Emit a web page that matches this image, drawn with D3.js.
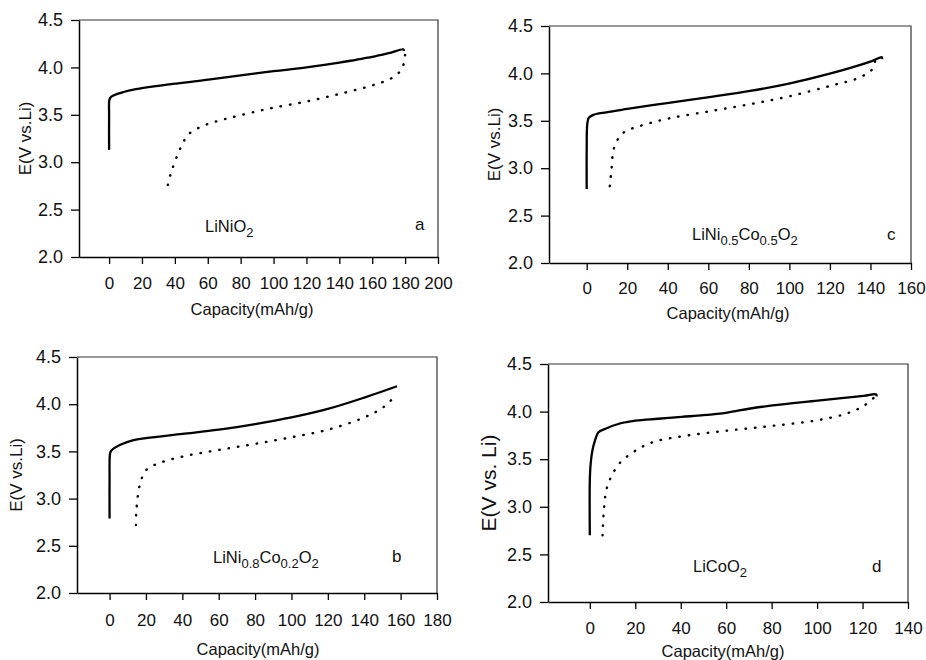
<!DOCTYPE html>
<html>
<head>
<meta charset="utf-8">
<script src="https://cdn.jsdelivr.net/npm/d3@7"></script>
<style>
  body { margin: 0; background: #fff; }
  svg { display: block; font-family: "Liberation Sans", Arial, sans-serif; }
</style>
</head>
<body>
<div id="chart"></div>
<script>
// Charge / discharge curves, [capacity mAh/g, E V]
const chargeA = [[0, 3.13], [0, 3.5], [0.2, 3.66], [1.2, 3.69], [5, 3.72], [8.7, 3.74], [14.8, 3.765], [41, 3.83], [60.4, 3.87], [80, 3.915], [100, 3.96], [120, 4.0], [140, 4.05], [150, 4.08], [160, 4.11], [170, 4.15], [179, 4.19], [179.2, 4.175]];
const dischargeA = [[35.7, 2.76], [37.5, 2.88], [41, 3.05], [44.8, 3.2], [48, 3.29], [53.7, 3.355], [60.4, 3.405], [71.6, 3.46], [85.8, 3.52], [100, 3.575], [120, 3.64], [140, 3.72], [160, 3.81], [171, 3.88], [177, 3.96], [179.5, 4.06], [180, 4.16]];

const chargeC = [[0, 2.78], [0, 3.2], [0.3, 3.47], [1, 3.53], [3, 3.56], [9.7, 3.59], [20, 3.625], [40.5, 3.69], [60.5, 3.75], [80.6, 3.815], [100.3, 3.895], [120.4, 4.0], [140.7, 4.13], [145.6, 4.17], [145.8, 4.15]];
const dischargeC = [[11.4, 2.81], [12.2, 2.98], [13.3, 3.2], [15.5, 3.31], [18.8, 3.385], [26.2, 3.445], [40.5, 3.525], [60.5, 3.6], [80.6, 3.675], [100.3, 3.76], [120.4, 3.87], [135, 3.96], [141.5, 4.06], [142.3, 4.16]];

const chargeB = [[0, 2.79], [0, 3.2], [0.3, 3.48], [1, 3.51], [5.9, 3.57], [13.2, 3.62], [20, 3.64], [40, 3.685], [60, 3.73], [80, 3.79], [100, 3.86], [120, 3.95], [140, 4.07], [158, 4.19]];
const dischargeB = [[14.5, 2.72], [14.7, 2.86], [16, 3.09], [17.8, 3.22], [20.5, 3.31], [27.9, 3.38], [40, 3.445], [60, 3.515], [80, 3.58], [100, 3.65], [120, 3.73], [140, 3.86], [150.7, 3.97], [158, 4.11]];

const chargeD = [[0, 2.7], [0, 3.28], [0.4, 3.46], [1.2, 3.6], [2.2, 3.69], [3.7, 3.78], [6.9, 3.82], [13.2, 3.875], [20.1, 3.905], [30, 3.925], [40.4, 3.945], [50, 3.962], [60.5, 3.99], [70, 4.03], [80.4, 4.065], [100.3, 4.115], [120.5, 4.165], [126, 4.18], [126.2, 4.16]];
const dischargeD = [[5.6, 2.7], [6.2, 2.97], [7.3, 3.18], [9.5, 3.32], [13.2, 3.46], [20.1, 3.59], [27.9, 3.68], [40.4, 3.74], [60.5, 3.8], [80.4, 3.85], [100.3, 3.91], [113, 3.98], [120.5, 4.06], [125.6, 4.16]];

// Axis ticks
const yTicks = [2.0, 2.5, 3.0, 3.5, 4.0, 4.5];
const xTicksA = [0, 20, 40, 60, 80, 100, 120, 140, 160, 180, 200];
const xTicksC = [0, 20, 40, 60, 80, 100, 120, 140, 160];
const xTicksB = [0, 20, 40, 60, 80, 100, 120, 140, 160, 180];
const xTicksD = [0, 20, 40, 60, 80, 100, 120, 140];

// Compound labels as [text, isSubscript] parts
const labelA = [["LiNiO", false], ["2", true]];
const labelC = [["LiNi", false], ["0.5", true], ["Co", false], ["0.5", true], ["O", false], ["2", true]];
const labelB = [["LiNi", false], ["0.8", true], ["Co", false], ["0.2", true], ["O", false], ["2", true]];
const labelD = [["LiCoO", false], ["2", true]];

const width = 926, height = 660;

const panels = [
    {charge: chargeA, discharge: dischargeA, xTicks: xTicksA, xMin: -18.3, xMax: 200, label: labelA, letter: "a",
     left: 79, right: 438, top: 20, bottom: 257, yTitle: "E(V vs.Li)", yTitleSize: 17, yTitleX: 25,
     labelX: 205, labelY: 232, letterX: 415, letterY: 230, tickPad: 13, titleDy: 58, titleX: 252},
    {charge: chargeC, discharge: dischargeC, xTicks: xTicksC, xMin: -18.6, xMax: 160, label: labelC, letter: "c",
     left: 549, right: 911, top: 26, bottom: 263, yTitle: "E(V vs.Li)", yTitleSize: 17, yTitleX: 494,
     labelX: 692, labelY: 240, letterX: 887, letterY: 240, tickPad: 12, titleDy: 56, titleX: 728},
    {charge: chargeB, discharge: dischargeB, xTicks: xTicksB, xMin: -17.9, xMax: 180, label: labelB, letter: "b",
     left: 77, right: 437, top: 357, bottom: 593, yTitle: "E(V vs.Li)", yTitleSize: 17, yTitleX: 16,
     labelX: 213, labelY: 563, letterX: 392, letterY: 562, tickPad: 14, titleDy: 62, titleX: 258},
    {charge: chargeD, discharge: dischargeD, xTicks: xTicksD, xMin: -18.4, xMax: 140, label: labelD, letter: "d",
     left: 548, right: 908, top: 364, bottom: 602, yTitle: "E(V vs. Li)", yTitleSize: 21, yTitleX: 489,
     labelX: 693, labelY: 572, letterX: 872, letterY: 572, tickPad: 13, titleDy: 55, titleX: 723}
];

const svg = d3.select("#chart")
    .append("svg")
    .attr("width", width)
    .attr("height", height)
    .attr("viewBox", [0, 0, width, height]);

panels.forEach(p => {
    const x = d3.scaleLinear().domain([p.xMin, p.xMax]).range([p.left, p.right]);
    const y = d3.scaleLinear().domain([2, 4.5]).range([p.bottom, p.top]);
    const g = svg.append("g");

    // Frame (top and right)
    g.append("path")
        .attr("d", `M${p.left},${p.top}H${p.right}V${p.bottom}`)
        .attr("fill", "none")
        .attr("stroke", "#333")
        .attr("stroke-width", 1.2);

    // Left axis
    g.append("g")
        .attr("transform", `translate(${p.left},0)`)
        .call(d3.axisLeft(y).tickValues(yTicks).tickFormat(d3.format(".1f")).tickSize(8).tickPadding(8).tickSizeOuter(0))
        .call(g => g.select(".domain").attr("stroke-width", 1.5))
        .call(g => g.selectAll(".tick line").attr("stroke-width", 1.3))
        .call(g => g.selectAll(".tick text")
            .attr("font-size", 18)
            .attr("font-family", "Liberation Sans, Arial, sans-serif")
            .attr("fill", "#111"));

    // Bottom axis
    g.append("g")
        .attr("transform", `translate(0,${p.bottom})`)
        .call(d3.axisBottom(x).tickValues(p.xTicks).tickSize(7).tickPadding(p.tickPad).tickSizeOuter(0))
        .call(g => g.select(".domain").attr("stroke-width", 1.5))
        .call(g => g.selectAll(".tick line").attr("stroke-width", 1.3))
        .call(g => g.selectAll(".tick text")
            .attr("font-size", 17)
            .attr("font-family", "Liberation Sans, Arial, sans-serif")
            .attr("fill", "#111"));

    // Axis titles
    g.append("text")
        .attr("x", p.titleX)
        .attr("y", p.bottom + p.titleDy)
        .attr("text-anchor", "middle")
        .attr("font-size", 16.5)
        .attr("fill", "#111")
        .text("Capacity(mAh/g)");

    g.append("text")
        .attr("transform", `translate(${p.yTitleX},${(p.top + p.bottom) / 2}) rotate(-90)`)
        .attr("text-anchor", "middle")
        .attr("dy", "0.35em")
        .attr("font-size", p.yTitleSize)
        .attr("fill", "#111")
        .text(p.yTitle);

    const line = d3.line()
        .x(d => x(d[0]))
        .y(d => y(d[1]))
        .curve(d3.curveCatmullRom.alpha(0.5));

    // Charge curve (solid)
    g.append("path")
        .attr("d", line(p.charge))
        .attr("fill", "none")
        .attr("stroke", "#000")
        .attr("stroke-width", 2.3)
        .attr("stroke-linejoin", "round");

    // Discharge curve (dotted)
    g.append("path")
        .attr("d", line(p.discharge))
        .attr("fill", "none")
        .attr("stroke", "#000")
        .attr("stroke-width", 2.4)
        .attr("stroke-linecap", "round")
        .attr("stroke-dasharray", "0.5,9");

    // Compound label with subscripts
    const t = g.append("text")
        .attr("x", p.labelX)
        .attr("y", p.labelY)
        .attr("font-size", 16.5)
        .attr("fill", "#111");
    let sub = false;
    p.label.forEach(([s, isSub]) => {
        const dy = isSub === sub ? 0 : (isSub ? 5 : -5);
        t.append("tspan")
            .attr("dy", dy)
            .attr("font-size", isSub ? 13 : 16.5)
            .text(s);
        sub = isSub;
    });

    g.append("text")
        .attr("x", p.letterX)
        .attr("y", p.letterY)
        .attr("font-size", 17)
        .attr("fill", "#111")
        .text(p.letter);
});
</script>
</body>
</html>
